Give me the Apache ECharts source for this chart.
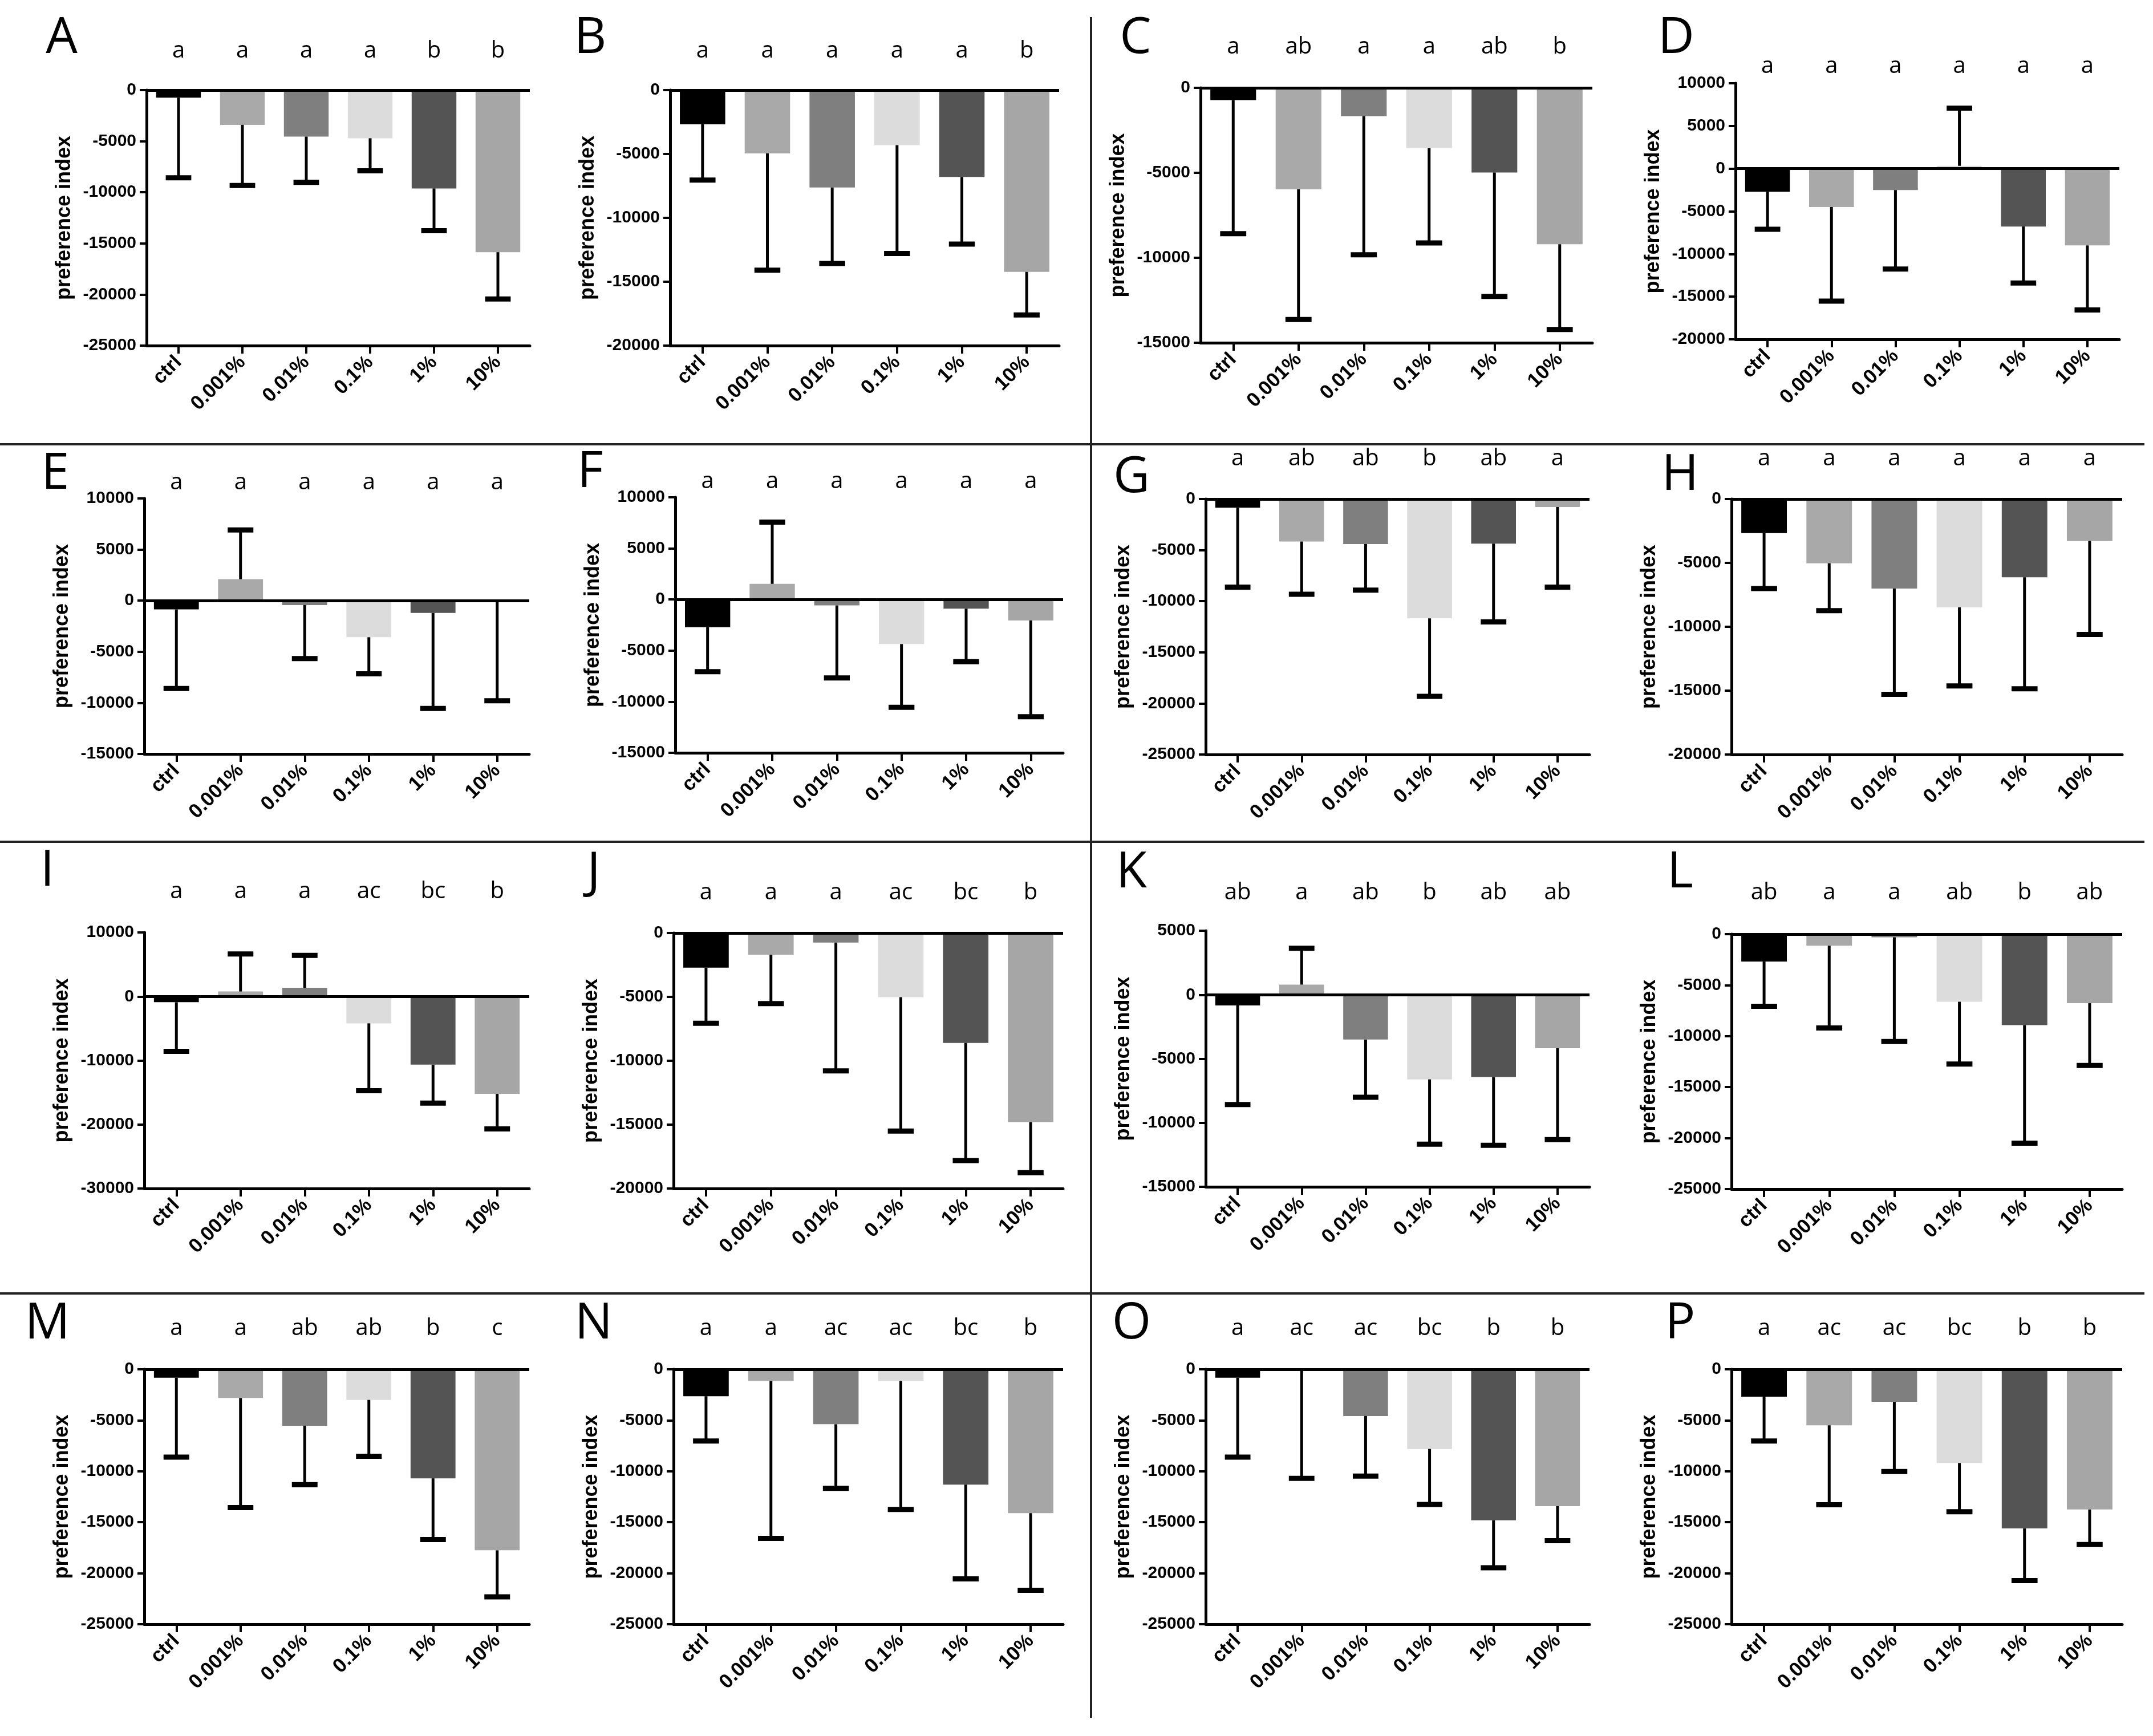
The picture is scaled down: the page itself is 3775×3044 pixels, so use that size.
<!DOCTYPE html>
<html>
<head>
<meta charset="utf-8">
<script src="https://cdn.jsdelivr.net/npm/echarts@6/dist/echarts.min.js"></script>
<style>
  html, body { margin: 0; padding: 0; background: #fff; }
  #chart { width: 3775px; height: 3044px; }
</style>
</head>
<body>
<div id="chart"></div>
<script>
// concentrations on the x axis
const CATEGORIES = ['ctrl', '0.001%', '0.01%', '0.1%', '1%', '10%'];

// mean preference index and error (one-sided bar) per panel
const MEAN_A = [-740, -3400, -4550, -4710, -9620, -15860];
const SD_A   = [7840, 5940, 4470, 3190, 4140, 4580];
const LET_A  = ['a', 'a', 'a', 'a', 'b', 'b'];

const MEAN_B = [-2680, -4950, -7620, -4310, -6800, -14230];
const SD_B   = [4360, 9150, 5950, 8480, 5250, 3370];
const LET_B  = ['a', 'a', 'a', 'a', 'a', 'b'];

const MEAN_C = [-720, -5970, -1670, -3550, -4980, -9200];
const SD_C   = [7860, 7660, 8150, 5580, 7290, 5020];
const LET_C  = ['a', 'ab', 'a', 'a', 'ab', 'b'];

const MEAN_D = [-2710, -4500, -2510, 330, -6780, -9000];
const SD_D   = [4400, 11020, 9260, 6750, 6620, 7560];
const LET_D  = ['a', 'a', 'a', 'a', 'a', 'a'];

const MEAN_E = [-850, 2100, -430, -3580, -1200, -80];
const SD_E   = [7740, 4810, 5230, 3580, 9350, 9720];
const LET_E  = ['a', 'a', 'a', 'a', 'a', 'a'];

const MEAN_F = [-2710, 1530, -580, -4360, -900, -2050];
const SD_F   = [4350, 6040, 7090, 6190, 5190, 9420];
const LET_F  = ['a', 'a', 'a', 'a', 'a', 'a'];

const MEAN_G = [-850, -4160, -4410, -11670, -4360, -780];
const SD_G   = [7770, 5160, 4510, 7640, 7660, 7840];
const LET_G  = ['a', 'ab', 'ab', 'b', 'ab', 'a'];

const MEAN_H = [-2670, -5030, -7010, -8480, -6130, -3290];
const SD_H   = [4340, 3710, 8280, 6150, 8720, 7310];
const LET_H  = ['a', 'a', 'a', 'a', 'a', 'a'];

const MEAN_I = [-900, 770, 1350, -4200, -10650, -15210];
const SD_I   = [7680, 5870, 5060, 10520, 6010, 5470];
const LET_I  = ['a', 'a', 'a', 'ac', 'bc', 'b'];

const MEAN_J = [-2710, -1700, -750, -5020, -8600, -14800];
const SD_J   = [4350, 3820, 10040, 10480, 9210, 3960];
const LET_J  = ['a', 'a', 'a', 'ac', 'bc', 'b'];

const MEAN_K = [-840, 790, -3500, -6610, -6430, -4180];
const SD_K   = [7740, 2840, 4510, 5060, 5330, 7130];
const LET_K  = ['ab', 'a', 'ab', 'b', 'ab', 'ab'];

const MEAN_L = [-2690, -1130, -310, -6630, -8920, -6770];
const SD_L   = [4390, 8070, 10220, 6110, 11580, 6110];
const LET_L  = ['ab', 'a', 'a', 'ab', 'b', 'ab'];

const MEAN_M = [-830, -2810, -5530, -3000, -10690, -17750];
const SD_M   = [7780, 10750, 5780, 5530, 6000, 4560];
const LET_M  = ['a', 'a', 'ab', 'ab', 'b', 'c'];

const MEAN_N = [-2640, -1140, -5390, -1140, -11310, -14110];
const SD_N   = [4390, 15440, 6280, 12610, 9250, 7560];
const LET_N  = ['a', 'a', 'ac', 'ac', 'bc', 'b'];

const MEAN_O = [-830, -100, -4580, -7810, -14810, -13420];
const SD_O   = [7780, 10590, 5890, 5440, 4660, 3390];
const LET_O  = ['a', 'ac', 'ac', 'bc', 'b', 'b'];

const MEAN_P = [-2690, -5500, -3190, -9190, -15610, -13750];
const SD_P   = [4340, 7780, 6840, 4780, 5110, 3440];
const LET_P  = ['a', 'ac', 'ac', 'bc', 'b', 'b'];

// y axis ranges: [min, max, step]
const RANGE_A = [-25000, 0, 5000];
const RANGE_B = [-20000, 0, 5000];
const RANGE_C = [-15000, 0, 5000];
const RANGE_D = [-20000, 10000, 5000];
const RANGE_E = [-15000, 10000, 5000];
const RANGE_F = [-15000, 10000, 5000];
const RANGE_G = [-25000, 0, 5000];
const RANGE_H = [-20000, 0, 5000];
const RANGE_I = [-30000, 10000, 10000];
const RANGE_J = [-20000, 0, 5000];
const RANGE_K = [-15000, 5000, 5000];
const RANGE_L = [-25000, 0, 5000];
const RANGE_M = [-25000, 0, 5000];
const RANGE_N = [-25000, 0, 5000];
const RANGE_O = [-25000, 0, 5000];
const RANGE_P = [-25000, 0, 5000];

const PANELS = [
    { id: 'A', mean: MEAN_A, sd: SD_A, letters: LET_A, range: RANGE_A },
    { id: 'B', mean: MEAN_B, sd: SD_B, letters: LET_B, range: RANGE_B },
    { id: 'C', mean: MEAN_C, sd: SD_C, letters: LET_C, range: RANGE_C },
    { id: 'D', mean: MEAN_D, sd: SD_D, letters: LET_D, range: RANGE_D },
    { id: 'E', mean: MEAN_E, sd: SD_E, letters: LET_E, range: RANGE_E },
    { id: 'F', mean: MEAN_F, sd: SD_F, letters: LET_F, range: RANGE_F },
    { id: 'G', mean: MEAN_G, sd: SD_G, letters: LET_G, range: RANGE_G },
    { id: 'H', mean: MEAN_H, sd: SD_H, letters: LET_H, range: RANGE_H },
    { id: 'I', mean: MEAN_I, sd: SD_I, letters: LET_I, range: RANGE_I },
    { id: 'J', mean: MEAN_J, sd: SD_J, letters: LET_J, range: RANGE_J },
    { id: 'K', mean: MEAN_K, sd: SD_K, letters: LET_K, range: RANGE_K },
    { id: 'L', mean: MEAN_L, sd: SD_L, letters: LET_L, range: RANGE_L },
    { id: 'M', mean: MEAN_M, sd: SD_M, letters: LET_M, range: RANGE_M },
    { id: 'N', mean: MEAN_N, sd: SD_N, letters: LET_N, range: RANGE_N },
    { id: 'O', mean: MEAN_O, sd: SD_O, letters: LET_O, range: RANGE_O },
    { id: 'P', mean: MEAN_P, sd: SD_P, letters: LET_P, range: RANGE_P }
];

// layout (pixels): grid box, y of the letter row, panel label centre
const LAYOUT = [
    { left: 257,  top: 158,  width: 672, height: 448, letterY: 90,   labelX: 108,  labelY: 68 },
    { left: 1175, top: 158,  width: 682, height: 448, letterY: 90,   labelX: 1035, labelY: 68 },
    { left: 2105, top: 154,  width: 687, height: 447, letterY: 83,   labelX: 1991, labelY: 68 },
    { left: 3043, top: 146,  width: 673, height: 449, letterY: 117,  labelX: 2939, labelY: 68 },
    { left: 253,  top: 874,  width: 675, height: 448, letterY: 847,  labelX: 97,   labelY: 832 },
    { left: 1184, top: 872,  width: 680, height: 448, letterY: 845,  labelX: 1035, labelY: 829 },
    { left: 2114, top: 875,  width: 673, height: 448, letterY: 805,  labelX: 1984, labelY: 838 },
    { left: 3036, top: 875,  width: 685, height: 448, letterY: 805,  labelX: 2946, labelY: 834 },
    { left: 253,  top: 1635, width: 675, height: 449, letterY: 1564, labelX: 83,   labelY: 1528 },
    { left: 1181, top: 1636, width: 683, height: 448, letterY: 1566, labelX: 1041, labelY: 1531 },
    { left: 2114, top: 1632, width: 673, height: 449, letterY: 1566, labelX: 1984, labelY: 1531 },
    { left: 3036, top: 1638, width: 685, height: 447, letterY: 1566, labelX: 2946, labelY: 1531 },
    { left: 253,  top: 2401, width: 675, height: 447, letterY: 2330, labelX: 83,   labelY: 2322 },
    { left: 1181, top: 2401, width: 683, height: 447, letterY: 2330, labelX: 1041, labelY: 2322 },
    { left: 2114, top: 2401, width: 673, height: 447, letterY: 2330, labelX: 1984, labelY: 2322 },
    { left: 3036, top: 2401, width: 685, height: 447, letterY: 2330, labelX: 2946, labelY: 2322 }
];

// bar shades per concentration
const BAR_COLORS = ['#000000', '#a9a9a9', '#7f7f7f', '#dcdcdc', '#545454', '#a6a6a6'];

const AXIS_FONT = '"Liberation Sans", Arial, sans-serif';
const LETTER_FONT = '"Open Sans", "DejaVu Sans", sans-serif';

function errorBarItem(params, api) {
    const idx = api.value(0);
    const base = api.coord([idx, api.value(1)]);
    const tip = api.coord([idx, api.value(2)]);
    const capHalf = api.size([1, 0])[0] * 0.2;
    return {
        type: 'group',
        children: [
            {
                type: 'line',
                shape: { x1: base[0], y1: base[1], x2: tip[0], y2: tip[1] },
                style: { stroke: '#000', lineWidth: 5 }
            },
            {
                type: 'line',
                shape: { x1: tip[0] - capHalf, y1: tip[1], x2: tip[0] + capHalf, y2: tip[1] },
                style: { stroke: '#000', lineWidth: 9 }
            }
        ]
    };
}

function buildOption() {
    const grid = [], xAxis = [], yAxis = [], series = [], graphic = [];

    PANELS.forEach(function (p, i) {
        const L = LAYOUT[i];
        grid.push({ left: L.left, top: L.top, width: L.width, height: L.height, containLabel: false });

        // bottom category axis
        xAxis.push({
            type: 'category',
            gridIndex: i,
            data: CATEGORIES,
            position: 'bottom',
            axisLine: { onZero: false, lineStyle: { color: '#000', width: 5 } },
            axisTick: { show: true, alignWithLabel: true, length: 14, lineStyle: { color: '#000', width: 4 } },
            axisLabel: {
                rotate: 45,
                margin: 24,
                color: '#000',
                fontSize: 35,
                fontWeight: 'bold',
                fontFamily: AXIS_FONT
            },
            splitLine: { show: false }
        });
        // top axis carrying the significance letters
        xAxis.push({
            type: 'category',
            gridIndex: i,
            data: CATEGORIES,
            position: 'top',
            offset: L.top - L.letterY,
            axisLine: { show: false },
            axisTick: { show: false },
            axisLabel: {
                margin: 0,
                verticalAlign: 'middle',
                color: '#000',
                fontSize: 40,
                fontFamily: LETTER_FONT,
                formatter: function (v, k) { return p.letters[k]; }
            },
            splitLine: { show: false }
        });

        yAxis.push({
            type: 'value',
            gridIndex: i,
            min: p.range[0],
            max: p.range[1],
            interval: p.range[2],
            name: 'preference index',
            nameLocation: 'middle',
            nameGap: 126,
            nameTextStyle: { color: '#000', fontSize: 36, fontWeight: 'bold', fontFamily: AXIS_FONT },
            axisLine: { show: true, lineStyle: { color: '#000', width: 5 } },
            axisTick: { show: true, length: 12, lineStyle: { color: '#000', width: 4 } },
            axisLabel: {
                margin: 18,
                color: '#000',
                fontSize: 30,
                fontWeight: 'bold',
                fontFamily: AXIS_FONT,
                formatter: function (v) { return String(v); }
            },
            splitLine: { show: false }
        });

        series.push({
            type: 'bar',
            xAxisIndex: i * 2,
            yAxisIndex: i,
            barCategoryGap: '30%',
            data: p.mean.map(function (v, k) {
                return { value: v, itemStyle: { color: BAR_COLORS[k] } };
            }),
            silent: true,
            z: 2
        });

        series.push({
            type: 'custom',
            xAxisIndex: i * 2,
            yAxisIndex: i,
            renderItem: errorBarItem,
            encode: { x: 0, y: [1, 2] },
            data: p.mean.map(function (v, k) {
                const dir = v >= 0 ? 1 : -1;
                return [k, v, v + dir * p.sd[k]];
            }),
            silent: true,
            z: 3,
            markLine: {
                silent: true,
                symbol: ['none', 'none'],
                label: { show: false },
                lineStyle: { color: '#000', width: 5, type: 'solid' },
                data: [{ yAxis: 0 }]
            }
        });

        graphic.push({
            type: 'text',
            x: L.labelX,
            y: L.labelY,
            style: {
                text: p.id,
                fill: '#000',
                fontSize: 88,
                fontFamily: LETTER_FONT,
                align: 'center',
                verticalAlign: 'middle'
            }
        });
    });

    // panel separators
    [779, 1476, 2268].forEach(function (y) {
        graphic.push({
            type: 'line',
            shape: { x1: 0, y1: y, x2: 3760, y2: y },
            style: { stroke: '#222', lineWidth: 4 }
        });
    });
    graphic.push({
        type: 'line',
        shape: { x1: 1913, y1: 30, x2: 1913, y2: 3012 },
        style: { stroke: '#222', lineWidth: 4 }
    });

    return {
        backgroundColor: '#ffffff',
        animation: false,
        grid: grid,
        xAxis: xAxis,
        yAxis: yAxis,
        series: series,
        graphic: graphic
    };
}

const chart = echarts.init(document.getElementById('chart'));
chart.setOption(buildOption());
</script>
</body>
</html>
